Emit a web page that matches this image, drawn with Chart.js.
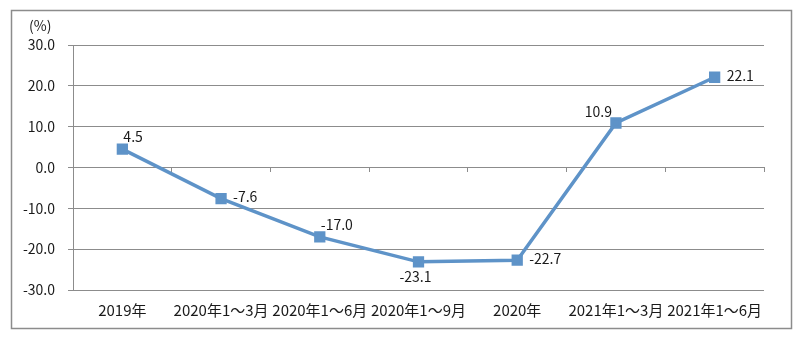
<!DOCTYPE html>
<html lang="zh">
<head>
    <meta charset="UTF-8">
    <title>增速</title>
    <script src="https://cdn.jsdelivr.net/npm/chart.js"></script>
    <style>
        html, body { margin: 0; padding: 0; background: #fff; }
        #wrap { width: 800px; height: 337px; position: relative; }
    </style>
</head>
<body>
    <div id="wrap">
        <canvas id="growthChart" width="800" height="337"></canvas>
    </div>
    <script>
        // data
        const categories = ['2019年', '2020年1～3月', '2020年1～6月', '2020年1～9月', '2020年', '2021年1～3月', '2021年1～6月'];
        const growth = [4.5, -7.6, -17.0, -23.1, -22.7, 10.9, 22.1];
        const yTicks = [30, 20, 10, 0, -10, -20, -30];
        // where each value label sits relative to its point
        const labelSide = ['above', 'right', 'above', 'below', 'right', 'aboveLeft', 'right'];

        const FONT = '"Noto Sans CJK SC", "Noto Sans", sans-serif';
        const LINE = '#5e93c8';
        const GRID = '#8c8c8c';

        // frame, unit label and value labels
        const extras = {
            id: 'extras',
            beforeDraw(chart) {
                const c = chart.ctx;
                c.save();
                c.strokeStyle = GRID;
                c.lineWidth = 1.5;
                c.strokeRect(11.5, 10.5, 780, 318);
                c.restore();
            },
            afterDatasetsDraw(chart) {
                const c = chart.ctx;
                const pts = chart.getDatasetMeta(0).data;
                c.save();
                c.font = '14px ' + FONT;
                c.fillStyle = '#1a1a1a';
                c.textBaseline = 'middle';
                c.textAlign = 'left';
                c.fillText('(%)', 29, 26);
                pts.forEach((p, i) => {
                    const txt = growth[i].toFixed(1);
                    const side = labelSide[i];
                    if (side === 'above') {
                        c.textAlign = 'left';
                        c.fillText(txt, p.x + 1, p.y - 12);
                    } else if (side === 'aboveLeft') {
                        c.textAlign = 'right';
                        c.fillText(txt, p.x - 4, p.y - 11);
                    } else if (side === 'below') {
                        c.textAlign = 'center';
                        c.fillText(txt, p.x - 3, p.y + 15);
                    } else {
                        c.textAlign = 'left';
                        c.fillText(txt, p.x + 12, p.y - 2);
                    }
                });
                c.restore();
            }
        };

        new Chart(document.getElementById('growthChart'), {
            type: 'line',
            data: {
                labels: categories,
                datasets: [{
                    data: growth,
                    xAxisID: 'x',
                    borderColor: LINE,
                    backgroundColor: LINE,
                    borderWidth: 3.5,
                    pointStyle: 'rect',
                    pointRadius: 5.5,
                    pointHoverRadius: 5.5,
                    fill: false,
                    tension: 0
                }]
            },
            options: {
                responsive: false,
                animation: false,
                events: [],
                layout: { padding: { left: 0, right: 36, top: 45, bottom: 0 } },
                plugins: {
                    legend: { display: false },
                    tooltip: { enabled: false }
                },
                scales: {
                    x: {
                        offset: true,
                        grid: { display: false, drawTicks: false },
                        border: { display: false },
                        ticks: {
                            color: '#1a1a1a',
                            font: { size: 15, family: FONT },
                            padding: 11,
                            maxRotation: 0,
                            autoSkip: false
                        },
                        afterFit(axis) { axis.height = 47; }
                    },
                    // category axis crossing at zero, only its tick marks show
                    x0: {
                        type: 'category',
                        labels: categories,
                        offset: true,
                        position: { y: 0 },
                        grid: { offset: true, drawOnChartArea: false, drawTicks: true, tickLength: 4, color: GRID },
                        border: { display: true, color: GRID, width: 1 },
                        ticks: { display: false },
                        afterFit(axis) { axis.height = 0; }
                    },
                    y: {
                        min: -30,
                        max: 30,
                        afterBuildTicks(axis) { axis.ticks = yTicks.map(v => ({ value: v })); },
                        grid: { color: GRID, lineWidth: 1, tickLength: 5, drawTicks: true },
                        border: { display: true, color: GRID, width: 1 },
                        ticks: {
                            color: '#1a1a1a',
                            font: { size: 14, family: FONT },
                            padding: 13,
                            callback: v => v.toFixed(1)
                        },
                        afterFit(axis) { axis.width = 73; }
                    }
                }
            },
            plugins: [extras]
        });
    </script>
</body>
</html>
